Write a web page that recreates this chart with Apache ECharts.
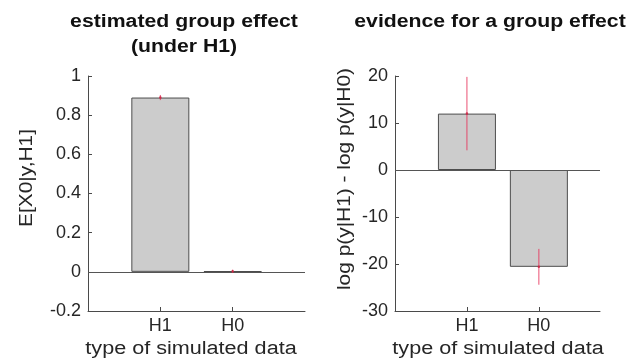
<!DOCTYPE html>
<html>
<head>
<meta charset="utf-8">
<script src="https://cdn.jsdelivr.net/npm/echarts@6/dist/echarts.min.js"></script>
<style>
  html, body { margin: 0; padding: 0; background: #fff; }
  #chart { width: 629px; height: 360px; }
</style>
</head>
<body>
<div id="chart"></div>
<script>
// Simulated-data conditions (x positions 1 and 2)
const categories = ['H1', 'H0'];
const categoryX = [1, 2];

// Left panel: estimated group effect under H1 (mean and error)
const effectMean = [0.89, 0.003];
const effectErr = [0.008, 0.003];

// Right panel: log-evidence difference (mean and error)
const evidenceMean = [12.0, -20.6];
const evidenceErr = [7.6, 3.6];

// Axis ticks
const effectTicks = { min: -0.2, max: 1, interval: 0.2 };
const evidenceTicks = { min: -30, max: 20, interval: 10 };

const FONT = 'Liberation Sans, Arial, sans-serif';
const AXIS_COLOR = '#4a4a4a';
const TEXT_COLOR = '#262626';
const BAR_FILL = '#cccccc';
const BAR_EDGE = '#4d4d4d';
const ERR_COLOR = '#e8325a';

function pairs(xs, ys) { return xs.map((x, i) => [x, ys[i]]); }

function xAxisFor(gridIndex, max) {
  return {
    type: 'value', gridIndex, min: 0, max,
    axisLine: { show: true, onZero: false, lineStyle: { color: AXIS_COLOR, width: 1 } },
    axisTick: { show: true, inside: true, length: 4, customValues: categoryX, lineStyle: { color: AXIS_COLOR } },
    axisLabel: {
      customValues: categoryX,
      formatter: v => categories[categoryX.indexOf(v)] || '',
      color: TEXT_COLOR, fontFamily: FONT, fontSize: 18, margin: 6
    },
    splitLine: { show: false }
  };
}

function yAxisFor(gridIndex, t, fmt) {
  return {
    type: 'value', gridIndex, min: t.min, max: t.max, interval: t.interval,
    axisLine: { show: true, onZero: false, lineStyle: { color: AXIS_COLOR, width: 1 } },
    axisTick: { show: true, inside: true, length: 4, lineStyle: { color: AXIS_COLOR } },
    axisLabel: { color: TEXT_COLOR, fontFamily: FONT, fontSize: 18, margin: 7, formatter: fmt },
    splitLine: { show: false }
  };
}

function barSeries(idx, means) {
  return {
    type: 'bar', xAxisIndex: idx, yAxisIndex: idx,
    data: pairs(categoryX, means),
    barWidth: 58,
    itemStyle: { color: BAR_FILL, borderColor: BAR_EDGE, borderWidth: 1 },
    markLine: {
      silent: true, symbol: 'none', label: { show: false },
      lineStyle: { color: '#555', width: 1, type: 'solid' },
      data: [{ yAxis: 0 }]
    },
    z: 2
  };
}

function errorSeries(idx, means, errs) {
  return {
    type: 'custom', xAxisIndex: idx, yAxisIndex: idx,
    data: categoryX.map((x, i) => [x, means[i], errs[i]]),
    renderItem: function (params, api) {
      const x = api.value(0), m = api.value(1), e = api.value(2);
      const hi = api.coord([x, m + e]);
      const lo = api.coord([x, m - e]);
      const c = api.coord([x, m]);
      return {
        type: 'group',
        children: [
          { type: 'line', shape: { x1: hi[0], y1: hi[1] - 1, x2: lo[0], y2: lo[1] + 1 },
            style: { stroke: ERR_COLOR, lineWidth: 1, opacity: 0.85 } },
          { type: 'circle', shape: { cx: c[0], cy: c[1], r: 1.3 },
            style: { fill: '#c8203f', opacity: 0.8 } }
        ]
      };
    },
    z: 5
  };
}

// Text helper: MATLAB-style labels are set slightly wide along the reading direction
function label(text, x, y, opts) {
  return {
    type: 'text', x, y,
    rotation: opts.rotation || 0,
    scaleX: opts.stretch || 1,
    style: {
      text, font: (opts.bold ? 'bold ' : '') + '18px ' + FONT,
      fill: opts.bold ? '#111' : TEXT_COLOR, align: 'center', verticalAlign: 'middle'
    }
  };
}

const chart = echarts.init(document.getElementById('chart'), null, { renderer: 'canvas' });

chart.setOption({
  animation: false,
  backgroundColor: '#ffffff',
  grid: [
    { left: 88, top: 76, width: 217, height: 235 },
    { left: 395, top: 76, width: 205, height: 235 }
  ],
  xAxis: [xAxisFor(0, 3), xAxisFor(1, 2.85)],
  yAxis: [
    yAxisFor(0, effectTicks, v => (Math.round(v * 10) / 10).toString()),
    yAxisFor(1, evidenceTicks, v => v.toString())
  ],
  series: [
    barSeries(0, effectMean),
    errorSeries(0, effectMean, effectErr),
    barSeries(1, evidenceMean),
    errorSeries(1, evidenceMean, evidenceErr)
  ],
  graphic: [
    label('estimated group effect', 184, 22, { bold: true, stretch: 1.18 }),
    label('(under H1)', 184, 47, { bold: true, stretch: 1.18 }),
    label('evidence for a group effect', 490, 22, { bold: true, stretch: 1.18 }),
    label('type of simulated data', 191, 349, { stretch: 1.2 }),
    label('type of simulated data', 498, 349, { stretch: 1.2 }),
    label('E[X0|y,H1]', 27, 178, { rotation: Math.PI / 2, stretch: 1.16 }),
    label('log p(y|H1) - log p(y|H0)', 345, 179, { rotation: Math.PI / 2, stretch: 1.16 })
  ]
});
</script>
</body>
</html>
